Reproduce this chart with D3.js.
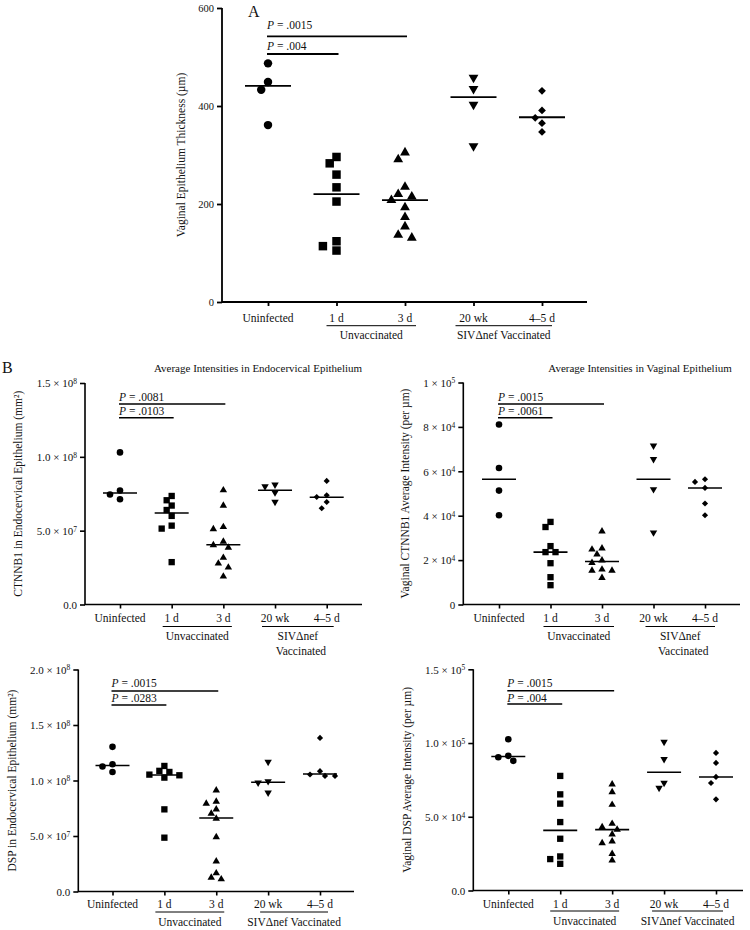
<!DOCTYPE html>
<html><head><meta charset="utf-8">
<script src="https://cdn.jsdelivr.net/npm/d3@7"></script>
<style>
body{margin:0;background:#fff}
svg{display:block}
text{font-family:"Liberation Serif","Times New Roman",serif;fill:#111}
</style>
</head><body>
<svg id="c" width="750" height="930"></svg>
<script>
// ---------- DATA ----------
const categories = ["Uninfected", "1 d", "3 d", "20 wk", "4–5 d"];
const groupNames = ["Unvaccinated", "SIVΔnef Vaccinated"];
const groupMembers = [["1 d", "3 d"], ["20 wk", "4–5 d"]];

// Panel A: vaginal epithelium thickness (µm)
const thicknessValues = [
  [487, 449, 433, 361],
  [296, 283, 260, 234, 205, 124, 114, 105],
  [305, 291, 235, 220, 215, 208, 193, 173, 154, 137, 131],
  [458, 435, 403, 318],
  [431, 391, 376, 365, 347]
];
const thicknessMedians = [441, 220, 208, 418, 377];
const thicknessTicks = [0, 200, 400, 600];
const thicknessTickLabels = ["0", "200", "400", "600"];
const thicknessP = [["3 d", ".0015"], ["1 d", ".004"]];

// Panel B1: CTNNB1 endocervical
const ctnnEndoValues = [
  [1.03e8, 7.72e7, 7.45e7, 7.13e7],
  [7.35e7, 7.06e7, 6.7e7, 6.4e7, 6.0e7, 5.34e7, 5.14e7, 2.87e7],
  [7.74e7, 6.7e7, 5.25e7, 5.11e7, 4.26e7, 4.02e7, 3.85e7, 3.17e7, 2.78e7, 2.51e7, 1.9e7],
  [8.12e7, 7.99e7, 7.58e7, 6.94e7],
  [8.37e7, 7.4e7, 7.28e7, 6.94e7, 6.52e7]
];
const ctnnEndoMedians = [7.55e7, 6.2e7, 4.05e7, 7.74e7, 7.26e7];
const ctnnEndoTicks = [0, 5e7, 1e8, 1.5e8];
const ctnnEndoTickLabels = ["0.0", "5.0 × 10^7", "1.0 × 10^8", "1.5 × 10^8"];
const ctnnEndoP = [["3 d", ".0081"], ["1 d", ".0103"]];

// Panel B2: CTNNB1 vaginal
const ctnnVagValues = [
  [8.11e4, 6.15e4, 5.13e4, 4.02e4],
  [3.72e4, 3.49e4, 2.63e4, 2.36e4, 2.36e4, 1.86e4, 1.23e4, 0.87e4],
  [3.30e4, 2.53e4, 2.48e4, 2.26e4, 1.99e4, 1.88e4, 1.58e4, 1.53e4, 1.53e4, 1.2e4],
  [7.15e4, 6.55e4, 5.19e4, 3.24e4],
  [5.64e4, 5.52e4, 5.25e4, 4.55e4, 4.02e4]
];
const ctnnVagMedians = [5.64e4, 2.36e4, 1.94e4, 5.64e4, 5.25e4];
const ctnnVagTicks = [0, 2e4, 4e4, 6e4, 8e4, 1e5];
const ctnnVagTickLabels = ["0", "2 × 10^4", "4 × 10^4", "6 × 10^4", "8 × 10^4", "1 × 10^5"];
const ctnnVagP = [["3 d", ".0015"], ["1 d", ".0061"]];

// Panel B3: DSP endocervical
const dspEndoValues = [
  [1.303e8, 1.147e8, 1.126e8, 1.077e8],
  [1.131e8, 1.087e8, 1.077e8, 1.053e8, 1.047e8, 1.026e8, 7.4e7, 4.85e7],
  [9.12e7, 8.1e7, 7.92e7, 7.4e7, 7.02e7, 6.57e7, 4.9e7, 2.71e7, 1.65e7, 1.26e7, 1.11e7],
  [1.168e8, 9.93e7, 9.81e7, 8.91e7],
  [1.384e8, 1.084e8, 1.054e8, 1.041e8, 1.041e8]
];
const dspEndoMedians = [1.135e8, 1.05e8, 6.62e7, 9.84e7, 1.059e8];
const dspEndoTicks = [0, 5e7, 1e8, 1.5e8, 2e8];
const dspEndoTickLabels = ["0.0", "5.0 × 10^7", "1.0 × 10^8", "1.5 × 10^8", "2.0 × 10^8"];
const dspEndoP = [["3 d", ".0015"], ["1 d", ".0283"]];

// Panel B4: DSP vaginal
const dspVagValues = [
  [1.026e5, 9.13e4, 9.04e4, 8.79e4],
  [7.77e4, 6.52e4, 5.89e4, 4.64e4, 3.51e4, 2.31e4, 2.13e4, 1.81e4],
  [7.2e4, 6.68e4, 5.82e4, 4.53e4, 4.3e4, 4.13e4, 3.81e4, 3.33e4, 3.22e4, 2.49e4, 2.04e4],
  [1.008e5, 8.9e4, 7.29e4, 6.95e4],
  [9.33e4, 8.65e4, 7.7e4, 7.29e4, 6.18e4]
];
const dspVagMedians = [9.09e4, 4.08e4, 4.13e4, 8.02e4, 7.7e4];
const dspVagTicks = [0, 5e4, 1e5, 1.5e5];
const dspVagTickLabels = ["0.0", "5.0 × 10^4", "1.0 × 10^5", "1.5 × 10^5"];
const dspVagP = [["3 d", ".0015"], ["1 d", ".004"]];

// ---------- LAYOUT ----------
const svg = d3.select("#c");
const symbolTypes = ["circle", "square", "triangle", "triangleDown", "diamond"];

const panels = [
  { values: thicknessValues, medians: thicknessMedians, ticks: thicknessTicks, tickLabels: thicknessTickLabels, pvals: thicknessP,
    yLabel: "Vaginal Epithelium Thickness (µm)", big: true,
    ax: 222, axEnd: 587, y0: 302, yTop: 8, xr: [268, 542],
    yLabelX: 181, catY: 318, gLineY: 325.7, gLabelY: 335, twoLine: false,
    pY: [[25, 36.3], [45.7, 54]], unvPad: [-10, 11], sivPad: [-18, 10] },
  { values: ctnnEndoValues, medians: ctnnEndoMedians, ticks: ctnnEndoTicks, tickLabels: ctnnEndoTickLabels, pvals: ctnnEndoP,
    yLabel: "CTNNB1 in Endocervical Epithelium (mm²)", big: false,
    ax: 85, axEnd: 362, y0: 604.5, yTop: 383, xr: [120, 326.7],
    yLabelX: 18, catY: 618, gLineY: 626.5, gLabelY: 636, twoLine: true,
    pY: [[397.3, 404], [411, 417.7]], unvPad: [-9, 8.5], sivPad: [-13, 7] },
  { values: ctnnVagValues, medians: ctnnVagMedians, ticks: ctnnVagTicks, tickLabels: ctnnVagTickLabels, pvals: ctnnVagP,
    yLabel: "Vaginal CTNNB1 Average Intensity (per µm)", big: false,
    ax: 463.3, axEnd: 740, y0: 604.5, yTop: 382.5, xr: [499, 705],
    yLabelX: 405, catY: 618, gLineY: 626.5, gLabelY: 636, twoLine: true,
    pY: [[397.3, 404], [411, 417.7]], unvPad: [-7, 12], sivPad: [-8, 10] },
  { values: dspEndoValues, medians: dspEndoMedians, ticks: dspEndoTicks, tickLabels: dspEndoTickLabels, pvals: dspEndoP,
    yLabel: "DSP in Endocervical Epithelium (mm²)", big: false,
    ax: 78.3, axEnd: 354, y0: 891.5, yTop: 669.5, xr: [112.5, 320],
    yLabelX: 12, catY: 904, gLineY: 912, gLabelY: 921.5, twoLine: false,
    pY: [[682.7, 691], [698.3, 705]], unvPad: [-9, 8], sivPad: [-8, 8] },
  { values: dspVagValues, medians: dspVagMedians, ticks: dspVagTicks, tickLabels: dspVagTickLabels, pvals: dspVagP,
    yLabel: "Vaginal DSP Average Intensity (per µm)", big: false,
    ax: 473.3, axEnd: 743, y0: 890.5, yTop: 669.3, xr: [508.3, 716],
    yLabelX: 407, catY: 903.5, gLineY: 911, gLabelY: 920.5, twoLine: false,
    pY: [[682.7, 690.7], [698, 704]], unvPad: [-10, 7], sivPad: [-12, 7] }
];

// headings
svg.append("text").attr("x", 248).attr("y", 17).style("font-size", "16px").text("A");
svg.append("text").attr("x", 2).attr("y", 373).style("font-size", "16px").text("B");
svg.append("text").attr("x", 258).attr("y", 372).attr("text-anchor", "middle").style("font-size", "11px")
  .text("Average Intensities in Endocervical Epithelium");
svg.append("text").attr("x", 640).attr("y", 372).attr("text-anchor", "middle").style("font-size", "11px")
  .text("Average Intensities in Vaginal Epithelium");

function symbolPath(type, size) {
  const map = { circle: d3.symbolCircle, square: d3.symbolSquare, triangle: d3.symbolTriangle,
    triangleDown: d3.symbolTriangle, diamond: d3.symbolSquare };
  return d3.symbol().type(map[type]).size(size)();
}

function swarm(vals, y, diam, step) {
  const placed = [];
  return vals.map(v => {
    const py = y(v);
    for (let k = 0; k < 30; k++) {
      const off = k === 0 ? 0 : (k % 2 ? -Math.ceil(k / 2) : Math.ceil(k / 2)) * step;
      if (placed.every(p => Math.hypot(p.dx - off, p.y - py) >= diam)) {
        placed.push({ dx: off, y: py });
        return { v, y: py, dx: off };
      }
    }
    return { v, y: py, dx: 0 };
  });
}

panels.forEach(P => {
  const g = svg.append("g");
  const x = d3.scalePoint().domain(categories).range(P.xr);
  const y = d3.scaleLinear().domain([0, d3.max(P.ticks)]).range([P.y0, P.yTop]);
  const fs = "11.5px";
  const sw = P.big ? 1.8 : 1.6;

  // axis lines
  g.append("path").attr("d", d3.line()([[P.ax, P.yTop], [P.ax, P.y0], [P.axEnd, P.y0]]))
    .attr("fill", "none").attr("stroke", "#000").attr("stroke-width", sw);

  // y ticks
  const yAxis = d3.axisLeft(y).tickValues(P.ticks).tickSize(5).tickPadding(3).tickFormat("");
  const ya = g.append("g").attr("transform", `translate(${P.ax},0)`).call(yAxis);
  ya.select(".domain").remove();
  ya.selectAll(".tick line").attr("stroke", "#000").attr("stroke-width", sw);
  ya.selectAll(".tick").each(function (d, i) {
    const lbl = P.tickLabels[i];
    const t = d3.select(this).append("text").attr("x", -8).attr("dy", "0.35em")
      .attr("text-anchor", "end").style("font-size", P.big ? "10.5px" : "11px").attr("fill", "#111");
    const parts = lbl.split("^");
    if (parts.length === 2) {
      t.append("tspan").text(parts[0]);
      t.append("tspan").attr("dy", "-0.45em").style("font-size", "7.5px").text(parts[1]);
    } else t.text(lbl);
  });

  // x ticks
  const xAxis = d3.axisBottom(x).tickSize(4).tickFormat("");
  const xa = g.append("g").attr("transform", `translate(0,${P.y0})`).call(xAxis);
  xa.select(".domain").remove();
  xa.selectAll(".tick line").attr("stroke", "#000").attr("stroke-width", sw);

  // category labels
  g.selectAll(".cat").data(categories).enter().append("text")
    .attr("x", d => x(d)).attr("y", P.catY).attr("dy", "0.35em").attr("text-anchor", "middle")
    .style("font-size", fs).text(d => d);

  // group lines + labels
  groupMembers.forEach((mem, gi) => {
    const pad = gi === 0 ? P.unvPad : P.sivPad;
    const x1 = x(mem[0]) + pad[0], x2 = x(mem[1]) + pad[1];
    g.append("line").attr("x1", x1).attr("x2", x2).attr("y1", P.gLineY).attr("y2", P.gLineY)
      .attr("stroke", "#000").attr("stroke-width", 1);
    const cx = (x1 + x2) / 2;
    if (gi === 1 && P.twoLine) {
      const words = groupNames[gi].split(" ");
      g.append("text").attr("x", cx).attr("y", P.gLabelY).attr("dy", "0.35em").attr("text-anchor", "middle")
        .style("font-size", fs).text(words[0]);
      g.append("text").attr("x", cx + 3).attr("y", P.gLabelY + 14.5).attr("dy", "0.35em").attr("text-anchor", "middle")
        .style("font-size", fs).text(words[1]);
    } else {
      g.append("text").attr("x", cx).attr("y", P.gLabelY).attr("dy", "0.35em").attr("text-anchor", "middle")
        .style("font-size", fs).text(groupNames[gi]);
    }
  });

  // y label
  const ymid = (P.y0 + P.yTop) / 2;
  g.append("text").attr("transform", `translate(${P.yLabelX},${ymid}) rotate(-90)`)
    .attr("text-anchor", "middle").attr("dy", "0.35em").style("font-size", "11.5px").text(P.yLabel);

  // p-value bars
  P.pvals.forEach((pv, i) => {
    const xs = x(categories[0]) - 1, xe = x(pv[0]) + 2;
    const [ty, by] = P.pY[i];
    g.append("line").attr("x1", xs).attr("x2", xe).attr("y1", by).attr("y2", by)
      .attr("stroke", "#000").attr("stroke-width", P.big ? 1.8 : 1.5);
    const t = g.append("text").attr("x", xs).attr("y", ty).attr("dy", "0.35em").style("font-size", fs);
    t.append("tspan").style("font-style", "italic").text("P");
    t.append("tspan").text(" = " + pv[1]);
  });

  // points
  const sizes = P.big ? { circle: 56, square: 72, triangle: 42, triangleDown: 42, diamond: 30 }
                      : { circle: 34, square: 40, triangle: 24, triangleDown: 24, diamond: 19 };
  const diam = P.big ? 8.5 : 6.5;
  const step = P.big ? 6.8 : 5;
  P.values.forEach((vals, ci) => {
    const type = symbolTypes[ci];
    const pts = swarm(vals, y, diam, step);
    const cx = x(categories[ci]);
    g.selectAll(null).data(pts).enter().append("path")
      .attr("d", symbolPath(type, sizes[type]))
      .attr("transform", d => {
        let tr = `translate(${cx + d.dx},${d.y})`;
        if (type === "triangleDown") tr += " rotate(180)";
        if (type === "diamond") tr += " rotate(45)";
        return tr;
      })
      .attr("fill", "#000");
    // median line
    const half = P.big ? 23 : 17;
    g.append("line").attr("x1", cx - half).attr("x2", cx + half)
      .attr("y1", y(P.medians[ci])).attr("y2", y(P.medians[ci]))
      .attr("stroke", "#000").attr("stroke-width", P.big ? 1.8 : 1.6);
  });
});
</script>
</body></html>
